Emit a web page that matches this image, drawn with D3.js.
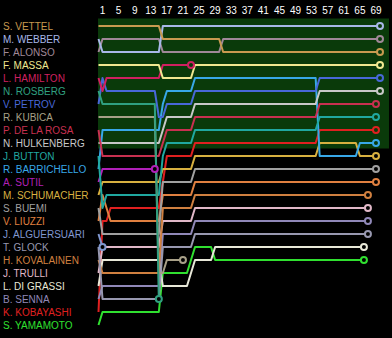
<!DOCTYPE html>
<html><head><meta charset="utf-8">
<script src="https://cdn.jsdelivr.net/npm/d3@7"></script>
<style>html,body{margin:0;padding:0;background:#000;}svg{display:block;}</style>
</head><body>
<script>
const drivers = ["S. VETTEL","M. WEBBER","F. ALONSO","F. MASSA","L. HAMILTON","N. ROSBERG","V. PETROV","R. KUBICA","P. DE LA ROSA","N. HULKENBERG","J. BUTTON","R. BARRICHELLO","A. SUTIL","M. SCHUMACHER","S. BUEMI","V. LIUZZI","J. ALGUERSUARI","T. GLOCK","H. KOVALAINEN","J. TRULLI","L. DI GRASSI","B. SENNA","K. KOBAYASHI","S. YAMAMOTO"];
const colors = ["#c89a50","#a8b8e8","#a08898","#f0e890","#d02060","#30a080","#4868d8","#a8a088","#c83050","#c8c8c8","#20a8a0","#38a8e8","#b020b8","#d8b040","#a0a0a0","#e08040","#8098d0","#9898b0","#d08040","#e0b8c8","#e8e8d8","#9088b8","#e02020","#30e030"];
const lapTicks = [1,5,9,13,17,21,25,29,33,37,41,45,49,53,57,61,65,69];
// position changes per driver: [lap, position from that lap on]
const posChanges = [
 [[0,1],[16,2],[31,3]],
 [[0,2],[1,3],[16,1]],
 [[0,3],[1,2],[16,3],[31,2]],
 [[0,4],[16,5],[24,4]],
 [[0,5],[1,6],[2,5],[16,4]],
 [[0,6],[1,7],[15,22]],
 [[0,7],[1,5],[2,6],[15,8],[17,7],[24,6],[55,5]],
 [[0,8],[15,20],[17,19]],
 [[0,9],[1,11],[16,10],[17,9],[24,8],[55,7]],
 [[0,10],[16,9],[17,8],[24,7],[55,6]],
 [[0,11],[1,15],[2,14],[16,11],[17,10],[24,9],[55,8]],
 [[0,12],[1,9],[16,7],[17,6],[24,5],[55,11],[65,10]],
 [[0,13],[1,12]],
 [[0,14],[1,13],[16,12],[24,11],[55,10],[65,11]],
 [[0,15],[1,17],[16,13],[24,12]],
 [[0,16],[1,14],[2,15],[3,16],[16,14],[24,13]],
 [[0,17],[1,18]],
 [[0,18],[1,22],[16,18],[24,17]],
 [[0,19],[1,20],[16,15],[24,14]],
 [[0,20],[1,18],[16,16],[24,15]],
 [[0,21],[1,19],[16,21],[23,20],[24,19],[29,18]],
 [[0,22],[1,21],[16,17],[24,16]],
 [[0,23],[1,16],[3,15],[16,13],[17,11],[24,10],[55,9]],
 [[0,24],[1,23],[16,20],[23,19],[24,18],[29,19]]
];
const lastLap = [70,70,70,70,23,15,70,21,69,70,69,69,14,69,69,69,1,67,67,67,66,67,69,66];

const W = 392, H = 338;
const svg = d3.select("body").append("svg").attr("width", W).attr("height", H).style("background", "#000");
const x = d3.scaleLinear().domain([0, 70]).range([98.5, 380]);
const y = d3.scaleLinear().domain([1, 24]).range([26, 325]);
const font = "Liberation Sans, Arial, sans-serif";

svg.append("rect").attr("x", 98).attr("y", y(1) - 7.5).attr("width", 291).attr("height", y(10) - y(1) + 13).attr("fill", "#0a3a0a");

svg.selectAll("text.tick").data(lapTicks).join("text")
  .attr("x", d => x(d)).attr("y", 14).attr("text-anchor", "middle")
  .attr("fill", "#fff").attr("font-family", font).attr("font-size", 10).text(d => d);

svg.selectAll("text.lab").data(drivers).join("text")
  .attr("x", 3).attr("y", (d, i) => y(i + 1) + 4)
  .attr("fill", (d, i) => colors[i]).attr("font-family", font).attr("font-size", 10).text(d => d);

function series(i) {
  const ch = posChanges[i];
  const pts = [];
  for (let lap = 0; lap <= lastLap[i]; lap++) {
    let p = ch[0][1];
    for (const c of ch) if (c[0] <= lap) p = c[1];
    pts.push([lap, p]);
  }
  return pts;
}
const line = d3.line().x(d => x(d[0])).y(d => y(d[1]));
const order = d3.range(drivers.length).reverse();
order.forEach(i => {
  svg.append("path").attr("d", line(series(i))).attr("fill", "none")
    .attr("stroke", colors[i]).attr("stroke-width", 2).attr("stroke-linejoin", "round");
});
order.forEach(i => {
  const pts = series(i);
  const last = pts[pts.length - 1];
  svg.append("circle").attr("cx", x(last[0])).attr("cy", y(last[1])).attr("r", 3)
    .attr("fill", last[1] <= 10 ? "#0a3a0a" : "#000").attr("stroke", colors[i]).attr("stroke-width", 2);
});
</script>
</body></html>
